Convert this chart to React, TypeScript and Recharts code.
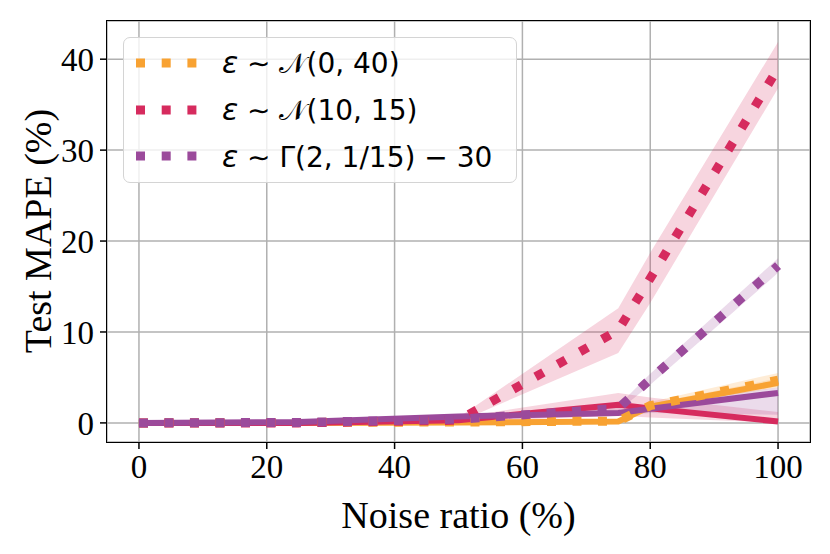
import { ComposedChart, Line, Area, XAxis, YAxis, CartesianGrid } from 'recharts'

// noise ratio (%) where each run was measured
const noise = [0, 25, 50, 75, 80, 100]

// dotted series (legend entries)
const orangeDot = [0, 0.05, 0.1, 0.2, 1.9, 4.7]
const orangeDotLo = [0, 0, 0, 0.05, 1.6, 4.0]
const orangeDotHi = [0.1, 0.1, 0.2, 0.4, 2.3, 5.5]

const crimsonDot = [0, 0, 0.3, 10.2, 15.9, 39.0]
const crimsonDotLo = [0, 0, 0.1, 7.7, 13.2, 36.8]
const crimsonDotHi = [0.1, 0.1, 0.6, 12.6, 18.7, 41.9]

const purpleDot = [0, 0.05, 0.4, 1.6, 4.8, 17.3]
const purpleDotLo = [0, 0, 0.2, 1.3, 4.2, 16.5]
const purpleDotHi = [0.1, 0.1, 0.6, 1.9, 5.4, 18.1]

// solid series
const orangeSolid = [0, 0, 0.05, 0.15, 1.8, 4.4]
const orangeSolidLo = [0, 0, 0, 0, 1.5, 3.9]
const orangeSolidHi = [0.1, 0.1, 0.2, 0.3, 2.1, 4.9]

const crimsonSolid = [0, 0, 0.3, 2.0, 1.6, 0.15]
const crimsonSolidLo = [0, 0, 0.1, 0.8, 0.6, 0]
const crimsonSolidHi = [0.1, 0.1, 0.6, 3.3, 2.8, 1.2]

const purpleSolid = [0, 0.1, 0.7, 1.1, 1.55, 3.3]
const purpleSolidLo = [0, 0, 0.5, 0.8, 1.1, 0.9]
const purpleSolidHi = [0.1, 0.2, 0.9, 1.4, 2.0, 3.9]

const xTicks = [0, 20, 40, 60, 80, 100]
const yTicks = [0, 10, 20, 30, 40]

const legendLabels = ['𝒩(0, 40)', '𝒩(10, 15)', 'Γ(2, 1/15) − 30']

const ORANGE = '#f8a232'
const CRIMSON = '#d62b5e'
const PURPLE = '#9b4a9b'
const legendColors = [ORANGE, CRIMSON, PURPLE]

const data = noise.map((x, i) => ({
  x,
  orangeDot: orangeDot[i],
  orangeDotBand: [orangeDotLo[i], orangeDotHi[i]],
  crimsonDot: crimsonDot[i],
  crimsonDotBand: [crimsonDotLo[i], crimsonDotHi[i]],
  purpleDot: purpleDot[i],
  purpleDotBand: [purpleDotLo[i], purpleDotHi[i]],
  orangeSolid: orangeSolid[i],
  orangeSolidBand: [orangeSolidLo[i], orangeSolidHi[i]],
  crimsonSolid: crimsonSolid[i],
  crimsonSolidBand: [crimsonSolidLo[i], crimsonSolidHi[i]],
  purpleSolid: purpleSolid[i],
  purpleSolidBand: [purpleSolidLo[i], purpleSolidHi[i]]
}))

const serif = "'Liberation Serif', 'Times New Roman', serif"
const tickStyle = { fontFamily: serif, fontSize: 33, fill: '#000' }
const DOTS = '9 16.5'

export default function App () {
  const band = (key: string, color: string) => (
    <Area
      type='linear'
      dataKey={key}
      stroke='none'
      fill={color}
      fillOpacity={0.2}
      isAnimationActive={false}
      activeDot={false}
    />
  )

  return (
    <div style={{ position: 'absolute', left: 0, top: 0, width: 830, height: 554, background: '#fff' }}>
      <ComposedChart
        width={830}
        height={554}
        data={data}
        margin={{ top: 21, right: 20, bottom: 0, left: 0 }}
      >
        <CartesianGrid stroke='#b0b0b0' strokeWidth={1.5} />
        <XAxis
          dataKey='x'
          type='number'
          domain={[-5, 105]}
          ticks={xTicks}
          height={112}
          axisLine={false}
          tickSize={7}
          tickMargin={6}
          tickLine={{ stroke: '#000', strokeWidth: 1.5 }}
          tick={tickStyle}
        />
        <YAxis
          type='number'
          domain={[-2.1, 44.2]}
          ticks={yTicks}
          width={107}
          axisLine={false}
          tickSize={7}
          tickMargin={6}
          tickLine={{ stroke: '#000', strokeWidth: 1.5 }}
          tick={tickStyle}
          allowDataOverflow
        />

        {band('orangeDotBand', ORANGE)}
        {band('crimsonDotBand', CRIMSON)}
        {band('purpleDotBand', PURPLE)}
        {band('orangeSolidBand', ORANGE)}
        {band('crimsonSolidBand', CRIMSON)}
        {band('purpleSolidBand', PURPLE)}

        <Line type='linear' dataKey='orangeSolid' stroke={ORANGE} strokeWidth={6} dot={false} activeDot={false} isAnimationActive={false} />
        <Line type='linear' dataKey='crimsonSolid' stroke={CRIMSON} strokeWidth={6} dot={false} activeDot={false} isAnimationActive={false} />
        <Line type='linear' dataKey='purpleSolid' stroke={PURPLE} strokeWidth={6} dot={false} activeDot={false} isAnimationActive={false} />
        <Line type='linear' dataKey='orangeDot' stroke={ORANGE} strokeWidth={9} strokeDasharray={DOTS} strokeLinecap='butt' dot={false} activeDot={false} isAnimationActive={false} />
        <Line type='linear' dataKey='crimsonDot' stroke={CRIMSON} strokeWidth={9} strokeDasharray={DOTS} strokeLinecap='butt' dot={false} activeDot={false} isAnimationActive={false} />
        <Line type='linear' dataKey='purpleDot' stroke={PURPLE} strokeWidth={9} strokeDasharray={DOTS} strokeLinecap='butt' dot={false} activeDot={false} isAnimationActive={false} />
      </ComposedChart>

      {/* plot frame */}
      <div style={{ position: 'absolute', left: 106, top: 20, width: 703, height: 421, border: '1.5px solid #000', pointerEvents: 'none' }} />

      {/* legend */}
      <div
        style={{
          position: 'absolute',
          left: 123,
          top: 37,
          width: 392,
          height: 144,
          background: 'rgba(255,255,255,0.8)',
          border: '1.5px solid #d4d4d4',
          borderRadius: 7,
          fontFamily: "'DejaVu Sans', sans-serif",
          fontSize: 28,
          color: '#000'
        }}
      >
        {legendLabels.map((label, i) => (
          <div key={label} style={{ position: 'absolute', left: 12, top: 8 + i * 46.5, height: 34, display: 'flex', alignItems: 'center' }}>
            <svg width={62} height={12} style={{ marginRight: 24 }}>
              <line x1={0} y1={6} x2={62} y2={6} stroke={legendColors[i]} strokeWidth={9} strokeDasharray='9 16.7' />
            </svg>
            <span style={{ whiteSpace: 'nowrap' }}>
              <span style={{ fontStyle: 'italic', fontSize: 30 }}>ε</span>
              {' ∼ '}
              {label}
            </span>
          </div>
        ))}
      </div>

      {/* axis labels */}
      <div style={{ position: 'absolute', left: 0, width: 917, top: 493, textAlign: 'center', fontFamily: serif, fontSize: 38, lineHeight: '44px', whiteSpace: 'nowrap' }}>
        Noise ratio (%)
      </div>
      <div
        style={{
          position: 'absolute',
          left: 38,
          top: 231,
          transform: 'translate(-50%, -50%) rotate(-90deg)',
          fontFamily: serif,
          fontSize: 38,
          lineHeight: '44px',
          whiteSpace: 'nowrap'
        }}
      >
        Test MAPE (%)
      </div>
    </div>
  )
}
